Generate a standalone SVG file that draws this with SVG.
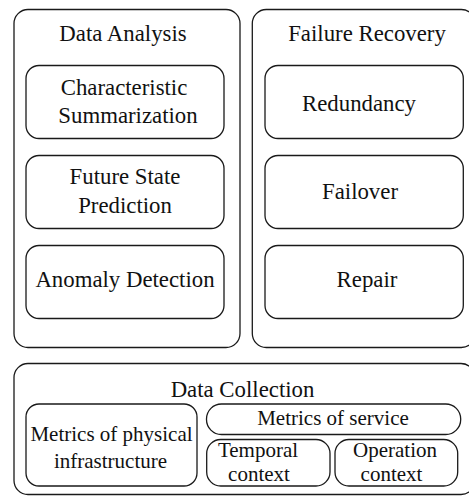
<svg xmlns="http://www.w3.org/2000/svg" width="469" height="496" viewBox="0 0 469 496">
  <style>
    .box { fill: #ffffff; stroke: #1a1a1a; stroke-width: 1.3; }
    .big { font-size: 22.8px; fill: #111111; text-anchor: middle; }
    .small { font-size: 21px; fill: #111111; text-anchor: middle; }
  </style>
  <rect width="469" height="496" fill="#ffffff"/>

  <g font-family="Liberation Serif, Tinos, Times New Roman, Times, Noto Serif, DejaVu Serif, serif">
  <!-- Data Analysis panel -->
  <g id="data-analysis">
    <rect class="box" x="14" y="9.5" width="226" height="338" rx="14"/>
    <text class="big" x="123" y="40.5">Data Analysis</text>
  </g>
  <g id="characteristic-summarization">
    <rect class="box" x="26" y="65.5" width="198" height="73" rx="13"/>
    <text class="big" x="124" y="95">Characteristic</text>
    <text class="big" x="128" y="123.3">Summarization</text>
  </g>
  <g id="future-state-prediction">
    <rect class="box" x="26" y="155.5" width="198" height="73" rx="13"/>
    <text class="big" x="125" y="184.3">Future State</text>
    <text class="big" x="125" y="212.7">Prediction</text>
  </g>
  <g id="anomaly-detection">
    <rect class="box" x="26" y="245.5" width="198" height="73" rx="13"/>
    <text class="big" x="125" y="286.7">Anomaly Detection</text>
  </g>

  <!-- Failure Recovery panel -->
  <g id="failure-recovery">
    <rect class="box" x="252.3" y="9.5" width="223" height="338" rx="14"/>
    <text class="big" x="367" y="40.5">Failure Recovery</text>
  </g>
  <g id="redundancy">
    <rect class="box" x="265" y="65.5" width="198.3" height="73" rx="13"/>
    <text class="big" x="359" y="110.5">Redundancy</text>
  </g>
  <g id="failover">
    <rect class="box" x="265" y="155.5" width="198.3" height="73" rx="13"/>
    <text class="big" x="360" y="199">Failover</text>
  </g>
  <g id="repair">
    <rect class="box" x="265" y="245.5" width="198.3" height="73" rx="13"/>
    <text class="big" x="367" y="287.3">Repair</text>
  </g>

  <!-- Data Collection panel -->
  <g id="data-collection">
    <rect class="box" x="14" y="363.5" width="461" height="131" rx="14"/>
    <text class="big" x="242.5" y="396.5">Data Collection</text>
  </g>
  <g id="metrics-physical">
    <rect class="box" x="26" y="404" width="171" height="82" rx="13"/>
    <text class="small" x="111.5" y="440.7">Metrics of physical</text>
    <text class="small" x="110.5" y="468.3">infrastructure</text>
  </g>
  <g id="metrics-service">
    <rect class="box" x="206.5" y="404" width="254.2" height="30.5" rx="15"/>
    <text class="small" x="333" y="425">Metrics of service</text>
  </g>
  <g id="temporal-context">
    <rect class="box" x="206.7" y="439.5" width="123.3" height="46.5" rx="14"/>
    <text class="small" x="258" y="456.7">Temporal</text>
    <text class="small" x="259" y="480.7">context</text>
  </g>
  <g id="operation-context">
    <rect class="box" x="335" y="439.5" width="122.7" height="46.5" rx="14"/>
    <text class="small" x="395" y="456.7">Operation</text>
    <text class="small" x="391.5" y="480.7">context</text>
  </g>
  </g>

  <!-- no connectors between the nodes -->
  <g id="connectors"/>
</svg>
